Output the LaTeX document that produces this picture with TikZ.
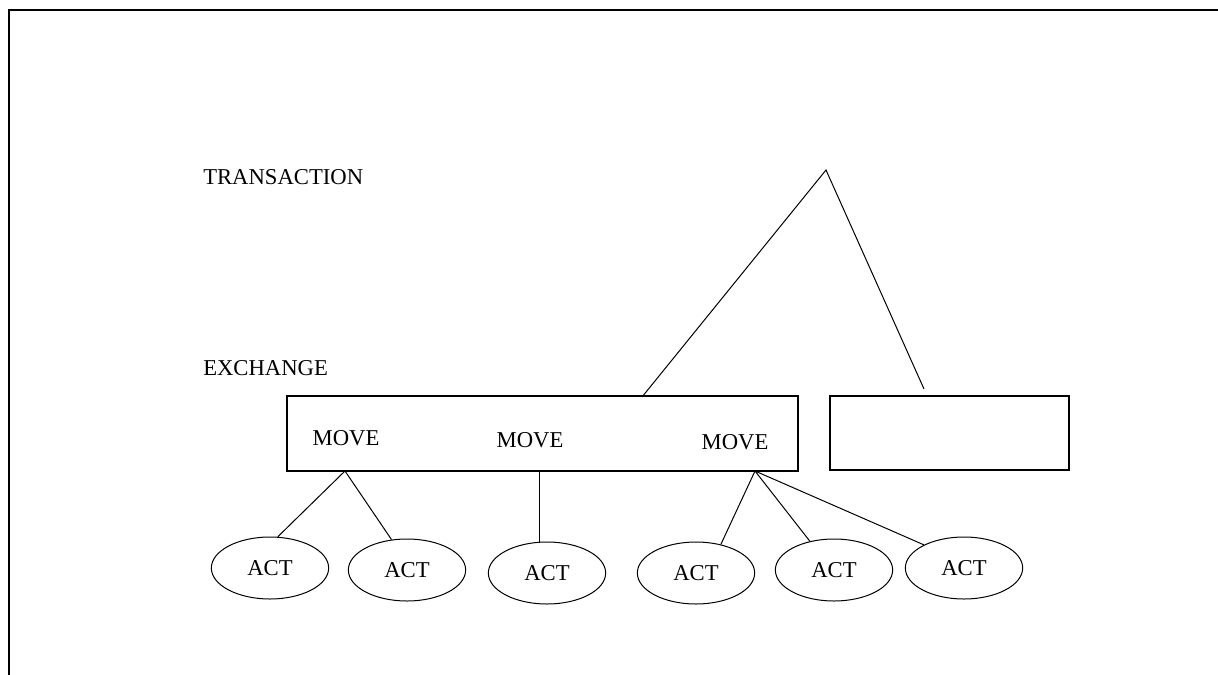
\documentclass[tikz,border=0pt]{standalone}
\usepackage{fontspec}
\setmainfont{Liberation Serif}
\usetikzlibrary{shapes.geometric}
\newcommand\wordsize[0]{\fontsize{17}{20}\selectfont}

\begin{document}
\begin{tikzpicture}[x=0.75pt,y=-0.75pt,
  word/.style={font=\wordsize, inner sep=0pt},
  act/.style={draw, ellipse, line width=0.75pt, minimum width=88pt, minimum height=46.5pt, inner sep=0pt, font=\wordsize},
  box/.style={draw, line width=1.2pt, inner sep=0pt},
  link/.style={line width=0.75pt}]

\useasboundingbox (0,0) rectangle (1218,675);
\draw[line width=1.5pt] (9,676) -- (9,10) -- (1219,10);

\node[word, anchor=west] at (203,177) (trans) {TRANSACTION};
\node[word, anchor=west] at (203,368) (exchname) {EXCHANGE};

\node[box, minimum width=383.25pt, minimum height=56.25pt] at (542.5,433.5) (exch) {};
\node[box, minimum width=179.25pt, minimum height=55.5pt] at (949.5,433) (other) {};

\node[word] at (346,438) (move1) {MOVE};
\node[word] at (530,440) (move2) {MOVE};
\node[word] at (735,442) (move3) {MOVE};

\coordinate (apex) at (826,170);
\coordinate (ex) at (642,397);
\coordinate (gap) at (924,389);
\draw[link] (ex)--(apex)--(gap);

\node[act] at (270,568) (a1) {ACT};
\node[act] at (407,570) (a2) {ACT};
\node[act] at (547,573) (a3) {ACT};
\node[act] at (696,573) (a4) {ACT};
\node[act] at (834,570) (a5) {ACT};
\node[act] at (964,568) (a6) {ACT};

\coordinate (f1) at (345,471);
\coordinate (f2) at (539,471);
\coordinate (f3) at (755,471);
\draw[link] (f1) -- (a1.76);
\draw[link] (f1) -- (a2.117);
\draw[link] (f2) -- (f2 |- a3.north);
\draw[link] (f3) -- (a4.49);
\draw[link] (f3) -- (a5.130);
\draw[link] (f3) -- (a6.150);
\end{tikzpicture}
\end{document}
